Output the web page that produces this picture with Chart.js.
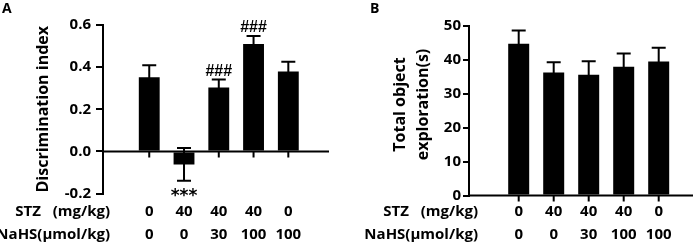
<!DOCTYPE html>
<html>
<head>
<meta charset="utf-8">
<script src="https://cdn.jsdelivr.net/npm/chart.js@4.4.0/dist/chart.umd.min.js"></script>
<style>
    html, body { margin: 0; padding: 0; background: #fff; }
    #wrap { position: relative; width: 700px; height: 245px; }
    .panel { position: absolute; top: 0; width: 350px; height: 245px; }
</style>
</head>
<body>
<div id="wrap">
    <div class="panel" style="left:0"><canvas id="chartA" width="350" height="245"></canvas></div>
    <div class="panel" style="left:350px"><canvas id="chartB" width="350" height="245"></canvas></div>
</div>
<script>
// groups (x positions) and treatment labels
const groups = [0, 1, 2, 3, 4];
const stzDose = ['0', '40', '40', '40', '0'];
const nahsDose = ['0', '0', '30', '100', '100'];
const rowLabels = ['STZ   (mg/kg)', 'NaHS(\u03bcmol/kg)'];

// panel A - discrimination index
const discMean = [0.352, -0.062, 0.303, 0.51, 0.379];
const discErr = [0.057, 0.078, 0.038, 0.038, 0.047];
const discMarks = ['', '***', '###', '###', ''];
const discTicks = [-0.2, 0.0, 0.2, 0.4, 0.6];

// panel B - total object exploration
const explMean = [44.8, 36.3, 35.6, 38.0, 39.5];
const explErr = [3.9, 3.0, 4.0, 3.9, 4.1];
const explMarks = ['', '', '', '', ''];
const explTicks = [0, 10, 20, 30, 40, 50];

const FONT = '"Open Sans"';
const LH = 23; // px between the two rows of the treatment table

const extrasPlugin = {
    id: 'extras',
    afterDatasetsDraw(chart, args, o) {
        const { ctx, chartArea } = chart;
        const x = chart.scales.x;
        const y = chart.scales.y;
        ctx.save();
        ctx.strokeStyle = '#000';
        ctx.lineWidth = 2;

        // zero line with small ticks under each bar
        const y0 = y.getPixelForValue(0);
        ctx.beginPath();
        ctx.moveTo(chartArea.left - 1, y0);
        ctx.lineTo(chartArea.right, y0);
        groups.forEach(function(i) {
            const px = x.getPixelForValue(i);
            ctx.moveTo(px, y0);
            ctx.lineTo(px, y0 + 6);
        });
        ctx.stroke();

        // error bars (mean +/- sem)
        o.mean.forEach(function(m, i) {
            const px = x.getPixelForValue(i);
            const top = y.getPixelForValue(m + o.err[i]);
            const bot = y.getPixelForValue(m - o.err[i]);
            ctx.beginPath();
            ctx.moveTo(px, top);
            ctx.lineTo(px, bot);
            ctx.moveTo(px - 7, top);
            ctx.lineTo(px + 7, top);
            ctx.moveTo(px - 7, bot);
            ctx.lineTo(px + 7, bot);
            ctx.stroke();
        });

        // significance marks
        ctx.fillStyle = '#000';
        ctx.textAlign = 'center';
        ctx.textBaseline = 'alphabetic';
        o.marks.forEach(function(mk, i) {
            if (!mk) return;
            const px = x.getPixelForValue(i);
            if (mk.charAt(0) === '*') {
                ctx.font = 'bold 17px "DejaVu Sans"';
                ctx.fillText(mk, px, y.getPixelForValue(o.mean[i] - o.err[i]) + 20);
            } else {
                ctx.font = 'bold 16px "Liberation Sans"';
                ctx.fillText(mk, px, y.getPixelForValue(o.mean[i] + o.err[i]) - 4);
            }
        });

        // row headers for the treatment table
        ctx.font = 'bold 15px ' + FONT;
        ctx.textAlign = 'right';
        ctx.textBaseline = 'middle';
        rowLabels.forEach(function(lbl, k) {
            ctx.fillText(lbl, o.headX, x.top + o.tickPad + LH / 2 + k * LH);
        });

        // panel letter
        ctx.font = 'bold 14px ' + FONT;
        ctx.textAlign = 'left';
        ctx.textBaseline = 'alphabetic';
        ctx.fillText(o.letter, o.letterX, 13);
        ctx.restore();
    }
};

function makePanel(canvasId, cfg) {
    const ctx = document.getElementById(canvasId).getContext('2d');
    return new Chart(ctx, {
        type: 'bar',
        data: {
            datasets: [{
                data: cfg.mean.map(function(v, i) { return { x: groups[i], y: v }; }),
                backgroundColor: '#000',
                borderWidth: 0,
                barPercentage: 0.6,
                categoryPercentage: 1
            }]
        },
        options: {
            responsive: false,
            animation: false,
            layout: { padding: { top: cfg.top, right: cfg.right, left: 0, bottom: 0 } },
            plugins: {
                legend: { display: false },
                tooltip: { enabled: false },
                extras: {
                    mean: cfg.mean, err: cfg.err, marks: cfg.marks,
                    headX: cfg.headX, tickPad: cfg.xPad,
                    letter: cfg.letter, letterX: cfg.letterX
                }
            },
            scales: {
                x: {
                    type: 'linear',
                    min: cfg.xMin,
                    max: cfg.xMax,
                    afterBuildTicks: function(s) {
                        s.ticks = groups.map(function(v) { return { value: v }; });
                    },
                    afterFit: function(s) {
                        s.height = cfg.xHeight;
                        s.paddingLeft = 0;
                        s.paddingRight = 0;
                    },
                    grid: { display: false, drawTicks: false },
                    border: { display: false },
                    ticks: {
                        autoSkip: false,
                        maxRotation: 0,
                        padding: cfg.xPad,
                        color: '#000',
                        font: { family: FONT, weight: 'bold', size: 15, lineHeight: LH / 15 },
                        callback: function(v) { return [stzDose[v], nahsDose[v]]; }
                    }
                },
                y: {
                    min: cfg.yTicks[0],
                    max: cfg.yTicks[cfg.yTicks.length - 1],
                    afterBuildTicks: function(s) {
                        s.ticks = cfg.yTicks.map(function(v) { return { value: v }; });
                    },
                    afterFit: function(s) {
                        s.width = cfg.yWidth;
                        s.paddingTop = 0;
                        s.paddingBottom = 0;
                    },
                    border: { color: '#000', width: 2 },
                    grid: {
                        drawOnChartArea: false,
                        color: '#000',
                        lineWidth: 2,
                        tickLength: cfg.tickLen
                    },
                    ticks: {
                        padding: cfg.yPad,
                        color: '#000',
                        font: { family: FONT, weight: 'bold', size: 15 },
                        callback: cfg.fmt
                    },
                    title: {
                        display: true,
                        text: cfg.title,
                        color: '#000',
                        font: { family: FONT, weight: 'bold', size: 16, lineHeight: 1.45 },
                        padding: { top: cfg.titlePad, bottom: 0 }
                    }
                }
            }
        },
        plugins: [extrasPlugin]
    });
}

makePanel('chartA', {
    mean: discMean, err: discErr, marks: discMarks, yTicks: discTicks,
    fmt: function(v) { return v.toFixed(1); },
    title: 'Discrimination index',
    titlePad: 32,
    top: 25, right: 21, yWidth: 103, xHeight: 51.5, xPad: 7,
    xMin: -0.68, xMax: 4.52,
    tickLen: 7, yPad: 5,
    headX: 110, letter: 'A', letterX: 2
});

makePanel('chartB', {
    mean: explMean, err: explErr, marks: explMarks, yTicks: explTicks,
    fmt: function(v) { return String(v); },
    title: ['   Total object', '   exploration(s)'],
    titlePad: 39,
    top: 26, right: 7, yWidth: 119, xHeight: 49.5, xPad: 5,
    xMin: -0.78, xMax: 4.34,
    tickLen: 6, yPad: 2,
    headX: 128, letter: 'B', letterX: 20
});
</script>
</body>
</html>
